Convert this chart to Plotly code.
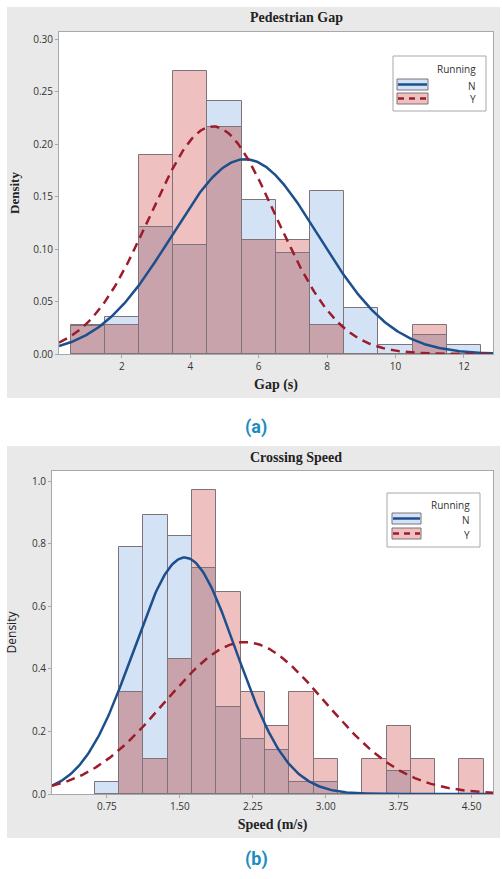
import numpy as np
import plotly.graph_objects as go

# ---- data ----
gap_bins = [1, 2, 3, 4, 5, 6, 7, 8, 9, 10, 11, 12]
gap_n = [0.027, 0.035, 0.121, 0.104, 0.241, 0.147, 0.096, 0.155, 0.044, 0.009, 0.018, 0.009]
gap_y = [0.028, 0.028, 0.190, 0.270, 0.216, 0.109, 0.109, 0.028, 0.0, 0.0, 0.028, 0.0]
gap_fit_n = (5.60, 2.15)   # mean, sd of the fitted normal
gap_fit_y = (4.66, 1.84)

speed_bins = [0.75, 1.0, 1.25, 1.5, 1.75, 2.0, 2.25, 2.5, 2.75, 3.0, 3.25, 3.5, 3.75, 4.0, 4.25, 4.5]
speed_n = [0.038, 0.790, 0.893, 0.825, 0.722, 0.279, 0.176, 0.140, 0.038, 0.038, 0.0, 0.0, 0.072, 0.0, 0.0, 0.0]
speed_y = [0.0, 0.326, 0.112, 0.432, 0.970, 0.647, 0.326, 0.218, 0.326, 0.112, 0.0, 0.112, 0.218, 0.112, 0.0, 0.112]
speed_fit_n = (1.55, 0.528)
speed_fit_y = (2.17, 0.822)

W, H = 502, 879
BLUE_FILL = "#d3e2f4"
RED_FILL = "#efc0c0"
MIX_FILL = "#c9a3ac"
EDGE = "#7d7378"
BLUE_LINE = "#1c4f8c"
RED_LINE = "#9c1c2c"
SERIF = "Liberation Serif"
SANS = "Open Sans"


def px(x):
    return x / W


def py(y):
    return 1 - y / H


def normal_pdf(x, mean, sd):
    return np.exp(-0.5 * ((x - mean) / sd) ** 2) / (sd * np.sqrt(2 * np.pi))


fig = go.Figure()


def add_panel(bins, n_vals, y_vals, width, fit_n, fit_y, xr, xa, ya):
    overlap = [min(a, b) for a, b in zip(n_vals, y_vals)]
    for vals, col in [(n_vals, BLUE_FILL), (y_vals, RED_FILL), (overlap, MIX_FILL)]:
        fig.add_trace(go.Bar(x=bins, y=vals, width=width, marker_color=col,
                             marker_line_color=EDGE, marker_line_width=1,
                             showlegend=False, xaxis=xa, yaxis=ya))
    xs = np.linspace(xr[0], xr[1], 300)
    fig.add_trace(go.Scatter(x=xs, y=normal_pdf(xs, *fit_n), mode="lines",
                             line=dict(color=BLUE_LINE, width=2.5),
                             showlegend=False, xaxis=xa, yaxis=ya))
    fig.add_trace(go.Scatter(x=xs, y=normal_pdf(xs, *fit_y), mode="lines",
                             line=dict(color=RED_LINE, width=2.5, dash="9px,6px"),
                             showlegend=False, xaxis=xa, yaxis=ya))


gap_range = [0.16, 12.85]
speed_range = [0.185, 4.72]
add_panel(gap_bins, gap_n, gap_y, 1.0, gap_fit_n, gap_fit_y, gap_range, "x", "y")
add_panel(speed_bins, speed_n, speed_y, 0.25, speed_fit_n, speed_fit_y, speed_range, "x2", "y2")

axis_common = dict(showline=True, linecolor="#a8a8a8", linewidth=1, mirror=True,
                   showgrid=False, zeroline=False, ticks="outside", ticklen=3,
                   tickcolor="#a8a8a8", automargin=False,
                   tickfont=dict(family=SANS, size=10, color="#333333"))

shapes = [
    # grey panels, then white plot areas
    dict(type="rect", xref="paper", yref="paper", x0=px(7), x1=px(500), y0=py(398), y1=py(7),
         fillcolor="#e9e9e9", line_width=0, layer="below"),
    dict(type="rect", xref="paper", yref="paper", x0=px(7), x1=px(500), y0=py(838), y1=py(446),
         fillcolor="#e9e9e9", line_width=0, layer="below"),
    dict(type="rect", xref="paper", yref="paper", x0=px(59), x1=px(493), y0=py(354), y1=py(32),
         fillcolor="white", line_width=0, layer="below"),
    dict(type="rect", xref="paper", yref="paper", x0=px(52), x1=px(493), y0=py(794), y1=py(471),
         fillcolor="white", line_width=0, layer="below"),
]
annotations = []


def add_legend(box, title_y, right, rows):
    x0, y0, x1, y1 = box
    shapes.append(dict(type="rect", xref="paper", yref="paper", x0=px(x0), x1=px(x1),
                       y0=py(y1), y1=py(y0), fillcolor="white",
                       line=dict(color="#a8a8a8", width=1)))
    annotations.append(dict(x=px(right), y=py(title_y), xref="paper", yref="paper",
                            text="Running", showarrow=False, xanchor="right", yanchor="middle",
                            font=dict(family=SANS, size=10, color="#333333")))
    for label, (ix0, ix1, iy0, iy1), fill, col, dash in rows:
        shapes.append(dict(type="rect", xref="paper", yref="paper", x0=px(ix0), x1=px(ix1),
                           y0=py(iy1), y1=py(iy0), fillcolor=fill,
                           line=dict(color=EDGE, width=1)))
        ym = (iy0 + iy1) / 2
        shapes.append(dict(type="line", xref="paper", yref="paper", x0=px(ix0 + 1), x1=px(ix1 - 1),
                           y0=py(ym), y1=py(ym), line=dict(color=col, width=2.5, dash=dash)))
        annotations.append(dict(x=px(right), y=py(ym + 1), xref="paper", yref="paper",
                                text=label, showarrow=False, xanchor="right", yanchor="middle",
                                font=dict(family=SANS, size=10, color="#333333")))


add_legend((393, 56, 486, 111), 69, 478,
           [("N", (397, 428, 79, 90), BLUE_FILL, BLUE_LINE, "solid"),
            ("Y", (397, 428, 93, 104), RED_FILL, RED_LINE, "6px,5px")])
add_legend((387, 493, 480, 547), 505, 472,
           [("N", (392, 421, 513, 524), BLUE_FILL, BLUE_LINE, "solid"),
            ("Y", (392, 421, 528, 539), RED_FILL, RED_LINE, "6px,5px")])

for text, x, y in [("Pedestrian Gap", 296, 18), ("Crossing Speed", 296, 457)]:
    annotations.append(dict(x=px(x), y=py(y), xref="paper", yref="paper", text="<b>" + text + "</b>",
                            showarrow=False, xanchor="center", yanchor="middle",
                            font=dict(family=SERIF, size=14, color="#222222")))
for text, y in [("(a)", 427), ("(b)", 859)]:
    annotations.append(dict(x=px(256), y=py(y), xref="paper", yref="paper", text="<b>" + text + "</b>",
                            showarrow=False, xanchor="center", yanchor="middle",
                            font=dict(family="Roboto", size=18, color="#1a8dbf")))

fig.update_layout(
    width=W, height=H, margin=dict(l=0, r=0, t=0, b=0),
    paper_bgcolor="white", plot_bgcolor="rgba(0,0,0,0)",
    barmode="overlay", bargap=0, showlegend=False,
    xaxis=dict(domain=[px(59), px(493)], range=gap_range, tickvals=[2, 4, 6, 8, 10, 12],
               anchor="y", title=dict(text="<b>Gap (s)</b>", standoff=7,
                                      font=dict(family=SERIF, size=14, color="#222222")),
               **axis_common),
    yaxis=dict(domain=[py(354), py(32)], range=[0, 0.3067], dtick=0.05, tickformat=".2f",
               anchor="x", title=dict(text="<b>Density</b>", standoff=10,
                                      font=dict(family=SERIF, size=13, color="#222222")),
               **axis_common),
    xaxis2=dict(domain=[px(52), px(493)], range=speed_range, tick0=0.75, dtick=0.75,
                tickformat=".2f", anchor="y2",
                title=dict(text="<b>Speed (m/s)</b>", standoff=7,
                           font=dict(family=SERIF, size=14, color="#222222")),
                **axis_common),
    yaxis2=dict(domain=[py(794), py(471)], range=[0, 1.032], dtick=0.2, tickformat=".1f",
                anchor="x2", title=dict(text="Density", standoff=12,
                                        font=dict(family=SANS, size=12, color="#222222")),
                **axis_common),
    shapes=shapes,
    annotations=annotations,
)

# the page's default body margin would shift the figure by 8px
fig.write_html("out.html", config={"displayModeBar": False},
               post_script="document.body.style.margin='0';")
